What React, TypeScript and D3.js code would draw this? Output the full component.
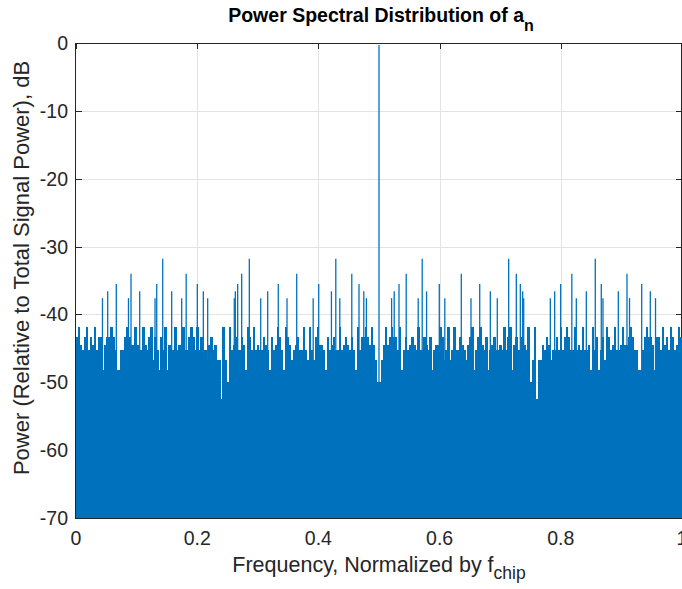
import React from 'react';
import * as d3 from 'd3';

const W = 682;
const H = 589;

const xTicks = [0, 0.2, 0.4, 0.6, 0.8, 1];
const xTickLabels = ['0', '0.2', '0.4', '0.6', '0.8', '1'];
const yTicks = [0, -10, -20, -30, -40, -50, -60, -70];
const yTickLabels = ['0', '-10', '-20', '-30', '-40', '-50', '-60', '-70'];

// Spectrum is symmetric about 0.5; values read for the half 0..0.5.
const baseStep = 0.5 / 151;
const baseHalf = [
  -43.3, -41.8, -44.5, -45.2, -43.3, -41.8, -45.2, -43.3, -44.5, -41.8,
  -45.2, -43.3, -43.3, -48.2, -44.5, -43.3, -43.3, -41.8, -43.3, -45.2,
  -48.2, -48.2, -45.2, -45.2, -43.3, -41.8, -43.3, -44.5, -44.5, -41.8,
  -44.5, -45.2, -45.2, -41.8, -44.5, -45.2, -43.3, -41.8,
  -46.7, -43.3, -45.2, -48.2, -43.3, -45.2, -41.8, -48.2, -44.5, -45.2,
  -45.2, -41.8, -45.2, -44.5, -45.2, -41.8, -45.2, -45.2, -43.3, -41.8,
  -43.3, -45.2, -41.8, -45.2, -43.3, -45.2, -45.2, -46.7, -44.5, -43.3,
  -45.2, -44.5, -46.7, -46.7, -52.5, -41.8, -46.7, -50.0,
  -41.8, -45.2, -44.5, -43.3, -45.2, -45.2, -43.3, -44.5, -48.2, -41.8,
  -43.3, -45.2, -41.8, -45.2, -44.5, -45.2, -45.2, -43.3, -44.5, -45.2,
  -48.2, -43.3, -45.2, -44.5, -41.8, -43.3, -45.2, -48.2, -41.8, -43.3,
  -44.5, -46.7, -45.2, -44.5, -43.3, -45.2, -45.2, -41.8,
  -45.2, -46.7, -41.8, -45.2, -46.7, -43.3, -41.8, -44.5, -44.5, -45.2,
  -48.2, -43.3, -45.2, -44.5, -43.3, -45.2, -45.2, -41.8, -45.2, -44.5,
  -43.3, -44.5, -45.2, -43.3, -45.2, -48.2, -41.8, -45.2, -43.3, -43.3,
  -41.8, -43.3, -44.5, -41.8, -44.5, -46.7, -50.0,
];

const spikeFreqs = [
  0.0437, 0.0523, 0.0665, 0.0866, 0.0908, 0.1051, 0.1304, 0.1332, 0.1431, 0.1579,
  0.1744, 0.1818, 0.2002, 0.2101, 0.2173, 0.2612, 0.2629, 0.2668, 0.2734, 0.2860,
  0.3048, 0.3163, 0.3338, 0.3482, 0.3642, 0.3914, 0.4005, 0.4215, 0.4287, 0.4353,
  0.4551, 0.4670, 0.4749, 0.4792,
];
const spikeDb = [
  -37.6, -36.6, -35.5, -37.6, -34.0, -36.6, -37.6, -35.5, -31.8, -36.6,
  -37.6, -34.0, -35.5, -36.6, -37.6, -37.6, -36.6, -35.5, -34.0, -31.8,
  -37.6, -36.6, -35.5, -37.6, -34.0, -37.6, -35.5, -36.6, -31.8, -37.6,
  -34.0, -35.5, -36.6, -37.6,
];
const centerFreq = 0.5;
const centerDb = -0.3;

const BLUE = '#0072BD';
const AXIS = '#262626';
const GRID = '#e3e3e3';
const FONT = "'Liberation Sans', Arial, Helvetica, sans-serif";

export default function App() {
  const x = d3.scaleLinear().domain([0, 1]).range([76, 682]);
  const y = d3.scaleLinear().domain([-70, 0]).range([518, 43]);
  const x0 = x(0), x1 = x(1), yTop = y(0), yBot = y(-70);

  const bars: { f0: number; f1: number; v: number }[] = [];
  baseHalf.forEach((v, i) => {
    bars.push({ f0: i * baseStep, f1: (i + 1) * baseStep, v });
    bars.push({ f0: 1 - (i + 1) * baseStep, f1: 1 - i * baseStep, v });
  });
  const spikes: { f: number; v: number }[] = [];
  spikeFreqs.forEach((f, i) => {
    spikes.push({ f, v: spikeDb[i] });
    spikes.push({ f: 1 - f, v: spikeDb[i] });
  });

  return (
    <svg width={W} height={H} style={{ position: 'absolute', left: 0, top: 0, background: '#fff' }}
      fontFamily={FONT}>
      <rect x={0} y={0} width={W} height={H} fill="#fff" />
      {/* grid */}
      {xTicks.slice(1, -1).map((t) => (
        <line key={'gx' + t} x1={Math.round(x(t)) + 0.5} x2={Math.round(x(t)) + 0.5} y1={yTop} y2={yBot}
          stroke={GRID} strokeWidth={1} />
      ))}
      {yTicks.slice(1, -1).map((t) => (
        <line key={'gy' + t} x1={x0} x2={x1} y1={Math.round(y(t)) + 0.5} y2={Math.round(y(t)) + 0.5}
          stroke={GRID} strokeWidth={1} />
      ))}
      {/* axes box */}
      <rect x={x0 - 0.5} y={yTop + 0.5} width={x1 - x0} height={yBot - yTop} fill="none" stroke={AXIS} strokeWidth={1} />
      {xTicks.map((t) => (
        <g key={'tx' + t}>
          <line x1={Math.round(x(t)) + 0.5} x2={Math.round(x(t)) + 0.5} y1={yTop} y2={yTop + 6} stroke={AXIS} />
          <line x1={Math.round(x(t)) + 0.5} x2={Math.round(x(t)) + 0.5} y1={yBot} y2={yBot - 6} stroke={AXIS} />
        </g>
      ))}
      {yTicks.map((t) => (
        <g key={'ty' + t}>
          <line x1={x0} x2={x0 + 6} y1={Math.round(y(t)) + 0.5} y2={Math.round(y(t)) + 0.5} stroke={AXIS} />
          <line x1={x1 - 6} x2={x1} y1={Math.round(y(t)) + 0.5} y2={Math.round(y(t)) + 0.5} stroke={AXIS} />
        </g>
      ))}
      {/* data */}
      <g fill={BLUE} shapeRendering="crispEdges">
        {bars.map((b, i) => (
          <rect key={'b' + i} x={x(b.f0)} y={y(b.v)} width={x(b.f1) - x(b.f0) + 0.4} height={yBot - y(b.v)} />
        ))}
      </g>
      <g stroke={BLUE} strokeWidth={1.3}>
        {spikes.map((s, i) => (
          <line key={'s' + i} x1={x(s.f)} x2={x(s.f)} y1={yBot} y2={y(s.v)} />
        ))}
        <line x1={x(centerFreq)} x2={x(centerFreq)} y1={yBot} y2={y(centerDb)} />
      </g>
      {/* tick labels */}
      {xTicks.map((t, i) => (
        <text key={'lx' + t} x={x(t)} y={545} textAnchor="middle" fontSize={19.5} fill={AXIS}>
          {xTickLabels[i]}
        </text>
      ))}
      {yTicks.map((t, i) => (
        <text key={'ly' + t} x={68} y={y(t) + 7} textAnchor="end" fontSize={19.5} fill={AXIS}>
          {yTickLabels[i]}
        </text>
      ))}
      {/* labels */}
      <text x={379} y={572} textAnchor="middle" fontSize={21.5} fill={AXIS}>
        Frequency, Normalized by f<tspan fontSize={17.5} dy={7}>chip</tspan>
      </text>
      <text transform={`translate(29,${268}) rotate(-90)`} textAnchor="middle" fontSize={22} fill={AXIS}>
        Power (Relative to Total Signal Power), dB
      </text>
      <text x={381} y={22} textAnchor="middle" fontSize={19.5} fontWeight="bold" fill="#000">
        Power Spectral Distribution of a<tspan fontSize={16} dy={9}>n</tspan>
      </text>
    </svg>
  );
}
